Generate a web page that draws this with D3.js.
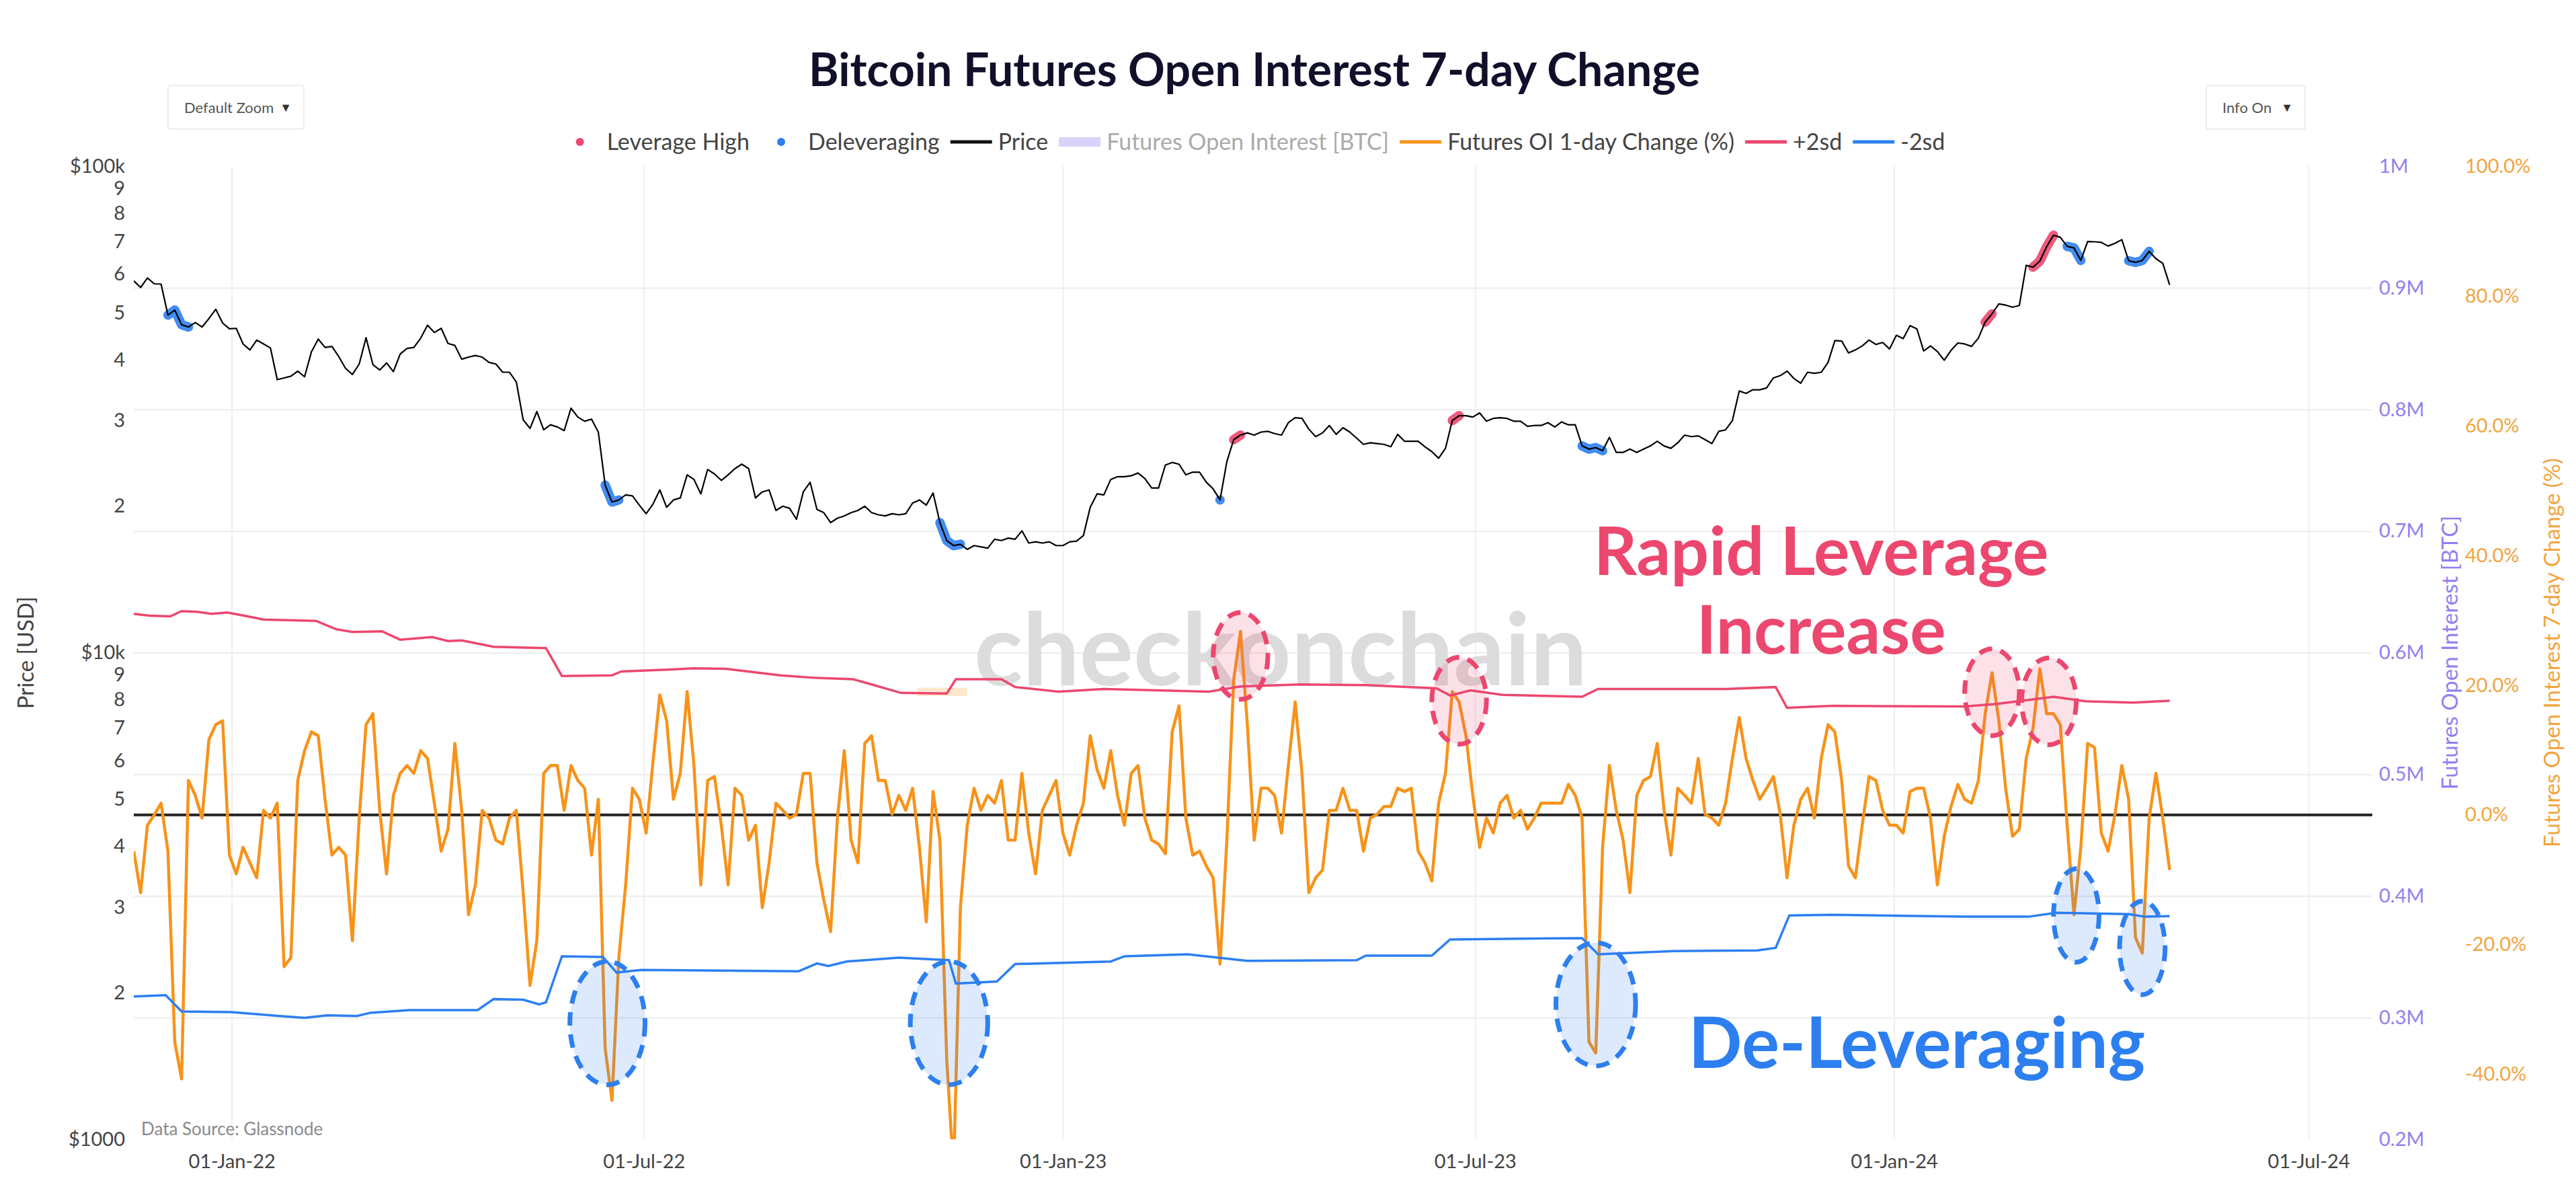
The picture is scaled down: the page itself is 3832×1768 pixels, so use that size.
<!DOCTYPE html>
<html>
<head>
<meta charset="utf-8">
<script src="https://cdn.jsdelivr.net/npm/d3@7"></script>
<style>
  body { margin: 0; background: #fff; }
  text { font-family: Lato, "Noto Sans", sans-serif; }
</style>
</head>
<body>
<svg id="chart" width="3832" height="1768"></svg>
<script>
// values, one every 3 days from the start date
var startDate = '2021-11-19';
var stepDays = 3;

var price = [
  58100, 56300, 58900, 57300,
  57200, 49400, 50600, 47200, 46700, 47700, 46700, 48600, 50800, 47600, 46300,
  46400, 43100, 41900, 43900, 43100, 42300, 36400, 36700, 37000, 37900,
  36900, 41500, 44100, 42400, 42600, 40600, 38400, 37300, 39200,
  44400, 39100, 38100, 39400, 37800, 41100, 42200, 42400, 44300, 47100, 45500,
  46400, 43200, 42800, 40100, 40500, 40800, 40500, 39500, 39200, 37700,
  37700, 36000, 30100, 28900, 31300, 28700, 29400, 29100, 28600, 31800,
  30500, 29900, 30200, 28400, 22100, 20400, 20600, 21100, 21000, 20100,
  19300, 20200, 21600, 19900, 20600, 20800, 23200, 22700, 21200, 23800,
  23300, 22600, 23200, 23900, 24400, 23900, 20800, 21400, 21600, 19600, 20000,
  19800, 18800, 21400, 22400, 19700, 19400, 18500, 18900, 19100, 19400,
  19600, 20000, 19400, 19200, 19100, 19300, 19200, 19300, 20300, 20600,
  20100, 21300, 18500, 17000, 16600, 16700, 16300, 16600, 16500, 16400,
  17100, 17000, 17200, 17100, 17800, 16800, 16900, 16800, 16900, 16600,
  16600, 16900, 16950, 17400, 19900, 21200, 21100, 22700, 23000, 23000, 23100,
  23400, 22800, 21800, 21800, 24300, 24600, 24400, 23200, 23500,
  23500, 22400, 21700, 20600, 24700, 27400, 28000, 28300, 28000, 28400,
  28500, 28200, 28000, 29700, 30400, 30300, 28800, 27800, 28300, 29300,
  28100, 29000, 28400, 27600, 26800, 27000, 26900, 26800, 26500, 28100, 27200,
  27200, 27200, 26500, 25900, 25100, 26300, 30000, 30700, 30700, 30500,
  31100, 29900, 30300, 30400, 30300, 29900, 29900, 29200, 29300, 29300,
  29700, 29100, 29800, 29400, 29400, 26600, 26200, 26400, 26000, 27700,
  25800, 25800, 26200, 25800, 26200, 26600, 27200, 26600, 26300, 27000,
  28000, 27800, 27900, 27400, 26900, 28500, 28700, 30000, 34500, 34100, 34700,
  34700, 35000, 36700, 37100, 37900, 36600, 35800, 37700, 37500, 37700,
  39500, 43800, 43700, 41300, 41900, 42700, 43900, 43000, 43400, 42100,
  44900, 44200, 47000, 46300, 41700, 42700, 41600, 39900, 41800, 43300,
  43100, 42600, 44300, 47800, 49700, 52100, 51800, 51300, 51700, 62500,
  62000, 63800, 68300, 72100, 71400, 68400, 67900, 64000, 70000, 69900,
  69700, 68500, 69400, 70600, 63900, 63400, 64000, 66800, 64500, 63100,
  57000
];

var oiChange = [
  -5.6, -12, -1.6, 0, 1.8, -5.6, -35, -40.7, 5.3, 3,
  -0.5, 11.6, 13.9, 14.5, -6.2, -9.1, -5, -7.4, -9.7, 0.7,
  -0.5, 1.8, -23.4, -22, 5.3, 9.9, 12.8, 12.2, 2.4, -6.2,
  -5, -6.2, -19.4, -0.5, 13.9, 15.6, 0.7, -9.1, 3, 6.4,
  7.6, 6.4, 9.9, 8.7, 1.8, -5.6, -2.2, 11, 0.7, -15.4,
  -10.8, 0.7, -0.5, -3.9, -4.5, -0.5, 0.7, -12, -26.3, -19.4,
  6.4, 7.6, 7.6, 0.7, 7.6, 5.3, 4.1, -6.2, 2.4, -36,
  -44, -22, -10.8, 4.1, 2.4, -2.8, 8.2, 18.5, 14.5, 2.4,
  6.4, 19, 7.6, -10.8, 5.3, 5.9, -1.6, -10.8, 4.1, 3,
  -3.9, -1.6, -14.3, -7.4, 1.8, 0.7, -0.5, 0.1, 6.4, 6.4,
  -7.4, -13.1, -18, -0.5, 9.9, -3.9, -7.4, 11, 12.2, 5.3,
  5.3, 0.1, 3, 0.7, 4.1, -5, -16.5, 3.6, -3.9, -37.8,
  -55, -14.3, -1.6, 4.1, 0.7, 3, 1.8, 5.3, -3.9, -3.9,
  6.4, -2.8, -9.1, 0.7, 3, 5.3, -2.8, -6.2, -1.6, 1.8,
  12.2, 7, 4.1, 9.9, 3, -1.6, 6.4, 7.6, -0.5, -3.9,
  -4.5, -6, 12.8, 16.8, -0.5, -6.2, -5.6, -7.9, -9.7, -23,
  -3.9, 20.8, 28.3, 13.9, -3.9, 4.1, 4.1, 3, -2.8, 7.6,
  17.4, 6.4, -12, -9.7, -8.5, 0.7, 0.7, 4.1, 0.7, 0.7,
  -5.6, -0.5, 0.1, 1.3, 1.3, 4.1, 3.6, 4.1, -5.6, -7.4,
  -10.2, 1.8, 6.4, 19, 17.4, 12.2, 3, -5, -0.5, -2.8,
  1.8, 3, -0.5, 0.7, -2.2, -0.5, 1.8, 1.8, 1.8, 1.8,
  4.7, 3, -0.5, -35, -36.7, -5, 7.6, 0.7, -3.9, -12,
  3, 5.3, 5.9, 11, 0.7, -6.2, 4.1, 3, 1.8, 8.7,
  0.1, -0.5, -1.6, 1.8, 8.7, 15, 8.7, 5.3, 2.4, 4.1,
  5.9, 0.1, -9.7, -1.6, 2.4, 4.1, -0.5, 8.7, 13.9, 12.8,
  5.3, -7.9, -9.7, -1.6, 5.9, 5.3, 0.7, -1.6, -1.6, -2.8,
  3.6, 4.1, 4.1, -0.5, -10.8, -3.3, 1.3, 4.7, 2.4, 1.8,
  5.3, 15.6, 21.9, 14.5, 4.1, -3.3, -2.2, 8.7, 13.3, 22.5,
  15.6, 15.6, 13.9, -1.6, -15.4, -5, 11, 10.4, -2.8, -5.6,
  0.1, 7.6, 2.4, -18.9, -21.3, -0.5, 6.4, -0.5, -8.5
];

var plus2sdDates = ['2021-11-19','2021-11-26','2021-12-05','2021-12-10','2021-12-17','2021-12-23','2021-12-30',
  '2022-01-08','2022-01-15','2022-02-07','2022-02-16','2022-02-23','2022-03-08','2022-03-16','2022-03-30',
  '2022-04-06','2022-04-12','2022-04-26','2022-05-19','2022-05-26','2022-06-17','2022-06-21','2022-07-13',
  '2022-07-23','2022-08-06','2022-08-30','2022-09-15','2022-10-01','2022-10-09','2022-10-22','2022-11-11',
  '2022-11-15','2022-12-05','2022-12-11','2022-12-30','2023-01-19','2023-03-06','2023-03-20','2023-04-15',
  '2023-05-14','2023-06-14','2023-06-20','2023-06-29','2023-07-13','2023-08-17','2023-08-24','2023-10-19',
  '2023-11-10','2023-11-15','2023-12-05','2024-02-01','2024-02-15','2024-03-11','2024-03-25','2024-04-15',
  '2024-05-01'];
var plus2sd = [31.0, 30.7, 30.6, 31.4, 31.3, 31.0, 31.2,
  30.6, 30.1, 29.9, 28.6, 28.2, 28.3, 27.0, 27.4,
  26.8, 26.9, 25.9, 25.7, 21.4, 21.5, 22.1, 22.4,
  22.6, 22.5, 21.5, 21.1, 20.9, 20.1, 18.8, 18.7,
  20.9, 20.9, 19.7, 19.0, 19.4, 19.0, 19.8, 20.1,
  20.0, 19.5, 18.4, 19.2, 18.5, 18.2, 19.4, 19.4,
  19.7, 16.5, 16.8, 16.7, 17.1, 18.2, 17.5, 17.3,
  17.6];

var minus2sdDates = ['2021-11-19','2021-12-03','2021-12-10','2022-01-01','2022-01-22','2022-02-02','2022-02-12',
  '2022-02-25','2022-03-03','2022-03-20','2022-04-19','2022-04-26','2022-05-09','2022-05-16','2022-05-19',
  '2022-05-26','2022-06-13','2022-06-19','2022-06-30','2022-09-07','2022-09-15','2022-09-20','2022-09-28',
  '2022-10-21','2022-11-12','2022-11-15','2022-12-03','2022-12-11','2023-01-22','2023-01-28','2023-02-25',
  '2023-03-23','2023-05-10','2023-05-14','2023-06-12','2023-06-20','2023-08-17','2023-08-24','2023-09-26',
  '2023-11-02','2023-11-10','2023-11-16','2023-12-05','2024-02-01','2024-02-29','2024-03-12','2024-04-13',
  '2024-04-20','2024-05-01'];
var minus2sd = [-28.0, -27.8, -30.3, -30.4, -31.0, -31.3, -30.9,
  -31.0, -30.5, -30.1, -30.1, -28.4, -28.5, -29.2, -28.9,
  -21.8, -21.9, -24.3, -23.9, -24.1, -22.9, -23.3, -22.6,
  -22.0, -22.4, -26.0, -25.7, -23.0, -22.6, -21.8, -21.5,
  -22.5, -22.4, -21.7, -21.7, -19.2, -19.0, -21.5, -21.0,
  -20.9, -20.5, -15.5, -15.4, -15.7, -15.7, -15.1, -15.3,
  -15.7, -15.6];

// date windows where the price is flagged
var leverageHigh = [['2023-03-16','2023-03-21'], ['2023-06-20','2023-06-25'], ['2024-02-09','2024-02-14'], ['2024-03-01','2024-03-11']];
var deleveraging = [['2021-12-03','2021-12-13'], ['2022-06-13','2022-06-20'], ['2022-11-07','2022-11-17'], ['2023-03-10','2023-03-12'],
  ['2023-08-16','2023-08-26'], ['2024-03-16','2024-03-23'], ['2024-04-12','2024-04-22']];

// dashed callout ellipses: centre date, centre value (%), half width (days), half height (%)
var riseDates = ['2023-03-20', '2023-06-24', '2024-02-13', '2024-03-09'];
var riseValues = [24.5, 17.6, 18.9, 17.5];
var riseHalfDays = [12, 12, 12, 12];
var riseHalfPct = [6.7, 6.7, 6.7, 6.7];
var dropDates = ['2022-06-15', '2022-11-12', '2023-08-23', '2024-03-21', '2024-04-19'];
var dropValues = [-32.1, -32.1, -29.2, -15.5, -20.5];
var dropHalfDays = [16.5, 17, 17.5, 10, 10];
var dropHalfPct = [9.5, 9.5, 9.5, 7.2, 7.2];

var dateTicks = ['2022-01-01','2022-07-01','2023-01-01','2023-07-01','2024-01-01','2024-07-01'];
var priceTicks = [1000, 2000, 3000, 4000, 5000, 6000, 7000, 8000, 9000,
  10000, 20000, 30000, 40000, 50000, 60000, 70000, 80000, 90000, 100000];
var oiTicks = [200000, 300000, 400000, 500000, 600000, 700000, 800000, 900000, 1000000];
var changeTicks = [-40, -20, 0, 20, 40, 60, 80, 100];

var RED = '#ec476e', BLUE = '#2d7ff0', ORANGE = '#f7931a', PURPLE = '#8f80f2', ORANGE_AX = '#f2a440';

var parse = d3.utcParse('%Y-%m-%d');
var dates = price.map(function(d, i) { return d3.utcDay.offset(parse(startDate), i * stepDays); });

// plot box (window.top is read-only, so no bare top/left names)
var pLeft = 199, pRight = 3529, pTop = 247, pBottom = 1694;

var x = d3.scaleUtc().domain([parse('2021-11-19'), parse('2024-07-29')]).range([pLeft, pRight]);
var yPrice = d3.scaleLog().domain([1000, 100000]).range([pBottom, pTop]);
var yOI = d3.scaleLinear().domain([200000, 1000000]).range([pBottom, pTop]);
var yChg = d3.scaleLinear().domain([-50, 100]).range([pBottom, pTop]);

var svg = d3.select('#chart');

svg.append('defs').append('clipPath').attr('id', 'plotclip')
  .append('rect').attr('x', pLeft).attr('y', pTop).attr('width', pRight - pLeft).attr('height', pBottom - pTop);

// grid
svg.append('g')
  .attr('transform', 'translate(0,' + pBottom + ')')
  .call(d3.axisBottom(x).tickValues(dateTicks.map(parse)).tickSize(-(pBottom - pTop)).tickFormat(''))
  .call(function(g) { g.select('.domain').remove(); g.selectAll('line').attr('stroke', '#efefef').attr('stroke-width', 2); });

svg.append('g')
  .attr('transform', 'translate(' + pLeft + ',0)')
  .call(d3.axisRight(yOI).tickValues(oiTicks.slice(1, -1)).tickSize(pRight - pLeft).tickFormat(''))
  .call(function(g) { g.select('.domain').remove(); g.selectAll('line').attr('stroke', '#efefef').attr('stroke-width', 2.5); });

// watermark
svg.append('text')
  .attr('x', 1905).attr('y', 1019)
  .attr('text-anchor', 'middle')
  .style('font-size', '150px').style('font-weight', 'bold')
  .attr('fill', '#dcdcdc')
  .text('checkonchain');

var plot = svg.append('g').attr('clip-path', 'url(#plotclip)');

// small highlight box
plot.append('rect')
  .attr('x', x(parse('2022-10-29'))).attr('y', yChg(19.6))
  .attr('width', x(parse('2022-11-20')) - x(parse('2022-10-29')))
  .attr('height', yChg(18.3) - yChg(19.6))
  .attr('fill', ORANGE).attr('opacity', 0.22);

// zero line
plot.append('line')
  .attr('x1', pLeft).attr('x2', pRight)
  .attr('y1', yChg(0)).attr('y2', yChg(0))
  .attr('stroke', '#222').attr('stroke-width', 4);

// 7 day change
var chgLine = d3.line()
  .x(function(d, i) { return x(dates[i]); })
  .y(function(d) { return yChg(d); });

plot.append('path')
  .datum(oiChange)
  .attr('d', chgLine)
  .attr('fill', 'none').attr('stroke', ORANGE).attr('stroke-width', 4.5).attr('stroke-linejoin', 'round');

var sdLine = function(ds) {
  return d3.line()
    .x(function(d, i) { return x(parse(ds[i])); })
    .y(function(d) { return yChg(d); });
};

plot.append('path').datum(plus2sd).attr('d', sdLine(plus2sdDates))
  .attr('fill', 'none').attr('stroke', RED).attr('stroke-width', 3.5);
plot.append('path').datum(minus2sd).attr('d', sdLine(minus2sdDates))
  .attr('fill', 'none').attr('stroke', BLUE).attr('stroke-width', 3.5);

// flagged price stretches, drawn thick under the price line
var priceLine = d3.line()
  .x(function(d) { return x(dates[d]); })
  .y(function(d) { return yPrice(price[d]); });

function flag(windows, color) {
  windows.forEach(function(w) {
    var a = parse(w[0]), b = parse(w[1]);
    var idx = d3.range(price.length).filter(function(i) { return dates[i] >= a && dates[i] <= b; });
    if (idx.length == 1) idx = [idx[0], idx[0]];
    plot.append('path')
      .datum(idx)
      .attr('d', priceLine)
      .attr('fill', 'none').attr('stroke', color).attr('stroke-width', 14)
      .attr('stroke-linecap', 'round').attr('stroke-linejoin', 'round').attr('opacity', 0.9);
  });
}
flag(leverageHigh, RED);
flag(deleveraging, BLUE);

plot.append('path')
  .datum(d3.range(price.length))
  .attr('d', priceLine)
  .attr('fill', 'none').attr('stroke', '#000').attr('stroke-width', 2.2).attr('stroke-linejoin', 'round');

// dashed ellipses
function ellipses(ds, vs, hd, hp, color) {
  ds.forEach(function(d, i) {
    var c = parse(d);
    svg.append('ellipse')
      .attr('cx', x(c)).attr('cy', yChg(vs[i]))
      .attr('rx', x(d3.utcHour.offset(c, hd[i] * 24)) - x(c))
      .attr('ry', yChg(vs[i]) - yChg(vs[i] + hp[i]))
      .attr('fill', color).attr('fill-opacity', 0.16)
      .attr('stroke', color).attr('stroke-width', 7).attr('stroke-dasharray', '20,13');
  });
}
ellipses(riseDates, riseValues, riseHalfDays, riseHalfPct, RED);
ellipses(dropDates, dropValues, dropHalfDays, dropHalfPct, BLUE);

// callout text
var call = svg.append('g').style('font-weight', 'bold').attr('text-anchor', 'middle');
call.append('text').attr('x', x(parse('2023-11-30'))).attr('y', yChg(37)).attr('fill', RED)
  .style('font-size', '100px').text('Rapid Leverage');
call.append('text').attr('x', x(parse('2023-11-30'))).attr('y', yChg(24.8)).attr('fill', RED)
  .style('font-size', '100px').text('Increase');
call.append('text').attr('x', x(parse('2024-01-11'))).attr('y', yChg(-39)).attr('fill', BLUE)
  .style('font-size', '105px').text('De-Leveraging');

// axes
svg.append('g')
  .attr('transform', 'translate(0,' + pBottom + ')')
  .call(d3.axisBottom(x).tickValues(dateTicks.map(parse)).tickSize(0).tickFormat(d3.utcFormat('%d-%b-%y')))
  .call(function(g) {
    g.select('.domain').remove();
    g.selectAll('text').attr('y', 33).attr('dy', '0.35em').attr('fill', '#444').style('font-size', '29px');
  });

svg.append('g')
  .attr('transform', 'translate(186,0)')
  .call(d3.axisLeft(yPrice).tickValues(priceTicks).tickSize(0).tickPadding(0)
    .tickFormat(function(d) {
      if (d == 100000) return '$100k';
      if (d == 10000) return '$10k';
      if (d == 1000) return '$1000';
      return String(d).charAt(0);
    }))
  .call(function(g) {
    g.select('.domain').remove();
    g.selectAll('text').attr('fill', '#444').style('font-size', '29px');
  });

svg.append('g')
  .attr('transform', 'translate(3539,0)')
  .call(d3.axisRight(yOI).tickValues(oiTicks).tickSize(0).tickPadding(0)
    .tickFormat(function(d) { return d == 1000000 ? '1M' : (d / 1e6).toFixed(1) + 'M'; }))
  .call(function(g) {
    g.select('.domain').remove();
    g.selectAll('text').attr('fill', PURPLE).style('font-size', '29px');
  });

svg.append('g')
  .attr('transform', 'translate(3667,0)')
  .call(d3.axisRight(yChg).tickValues(changeTicks).tickSize(0).tickPadding(0)
    .tickFormat(function(d) { return d.toFixed(1) + '%'; }))
  .call(function(g) {
    g.select('.domain').remove();
    g.selectAll('text').attr('fill', ORANGE_AX).style('font-size', '29px');
  });

// axis titles
var mid = (pTop + pBottom) / 2;
svg.append('text').attr('transform', 'translate(50,' + mid + ') rotate(-90)')
  .attr('text-anchor', 'middle').attr('fill', '#444').style('font-size', '33px').text('Price [USD]');
svg.append('text').attr('transform', 'translate(3656,' + mid + ') rotate(-90)')
  .attr('text-anchor', 'middle').attr('fill', PURPLE).style('font-size', '33px').text('Futures Open Interest [BTC]');
svg.append('text').attr('transform', 'translate(3808,' + mid + ') rotate(-90)')
  .attr('text-anchor', 'middle').attr('fill', ORANGE_AX).style('font-size', '33px').text('Futures Open Interest 7-day Change (%)');

// title
svg.append('text').attr('x', 1866).attr('y', 128).attr('text-anchor', 'middle')
  .attr('fill', '#10102a').style('font-size', '68px').style('font-weight', 'bold')
  .text('Bitcoin Futures Open Interest 7-day Change');

svg.append('text').attr('x', 210).attr('y', 1688).attr('fill', '#8a8a8a').style('font-size', '26px')
  .text('Data Source: Glassnode');

// legend
var legendItems = [
  { name: 'Leverage High', kind: 'dot', color: RED },
  { name: 'Deleveraging', kind: 'dot', color: BLUE },
  { name: 'Price', kind: 'line', color: '#111' },
  { name: 'Futures Open Interest [BTC]', kind: 'band', color: '#d9d3fb', off: true },
  { name: 'Futures OI 1-day Change (%)', kind: 'line', color: ORANGE },
  { name: '+2sd', kind: 'line', color: RED },
  { name: '-2sd', kind: 'line', color: BLUE }
];
var legend = svg.append('g');
var cx = 0, ly = 211;
legendItems.forEach(function(it, i) {
  var g = legend.append('g');
  if (it.kind == 'dot') {
    g.append('circle').attr('cx', cx).attr('cy', ly).attr('r', 6).attr('fill', it.color);
  } else if (it.kind == 'line') {
    g.append('line').attr('x1', cx - 31).attr('x2', cx + 31).attr('y1', ly).attr('y2', ly)
      .attr('stroke', it.color).attr('stroke-width', 5);
  } else {
    g.append('rect').attr('x', cx - 31).attr('y', ly - 7).attr('width', 62).attr('height', 14).attr('fill', it.color);
  }
  var t = g.append('text').attr('x', cx + 40).attr('y', ly).attr('dy', '0.35em')
    .attr('fill', it.off ? '#aaaaaa' : '#444').style('font-size', '34px').text(it.name);
  cx = cx + 40 + t.node().getComputedTextLength() + 47;
});
var lb = legend.node().getBBox();
legend.attr('transform', 'translate(' + (1875 - lb.x - lb.width / 2) + ',0)');

// dropdown buttons
function dropdown(x0, w, label) {
  var g = svg.append('g');
  g.append('rect').attr('x', x0).attr('y', 127).attr('width', w).attr('height', 65).attr('rx', 3)
    .attr('fill', '#fff').attr('stroke', '#ececec').attr('stroke-width', 2);
  g.append('text').attr('x', x0 + 24).attr('y', 160).attr('dy', '0.35em').attr('fill', '#555')
    .style('font-size', '22px').text(label);
  g.append('text').attr('x', x0 + w - 18).attr('y', 160).attr('dy', '0.35em').attr('text-anchor', 'end')
    .attr('fill', '#333').style('font-size', '18px').text('▼');
}
dropdown(250, 202, 'Default Zoom');
dropdown(3282, 147, 'Info On');
</script>
</body>
</html>
